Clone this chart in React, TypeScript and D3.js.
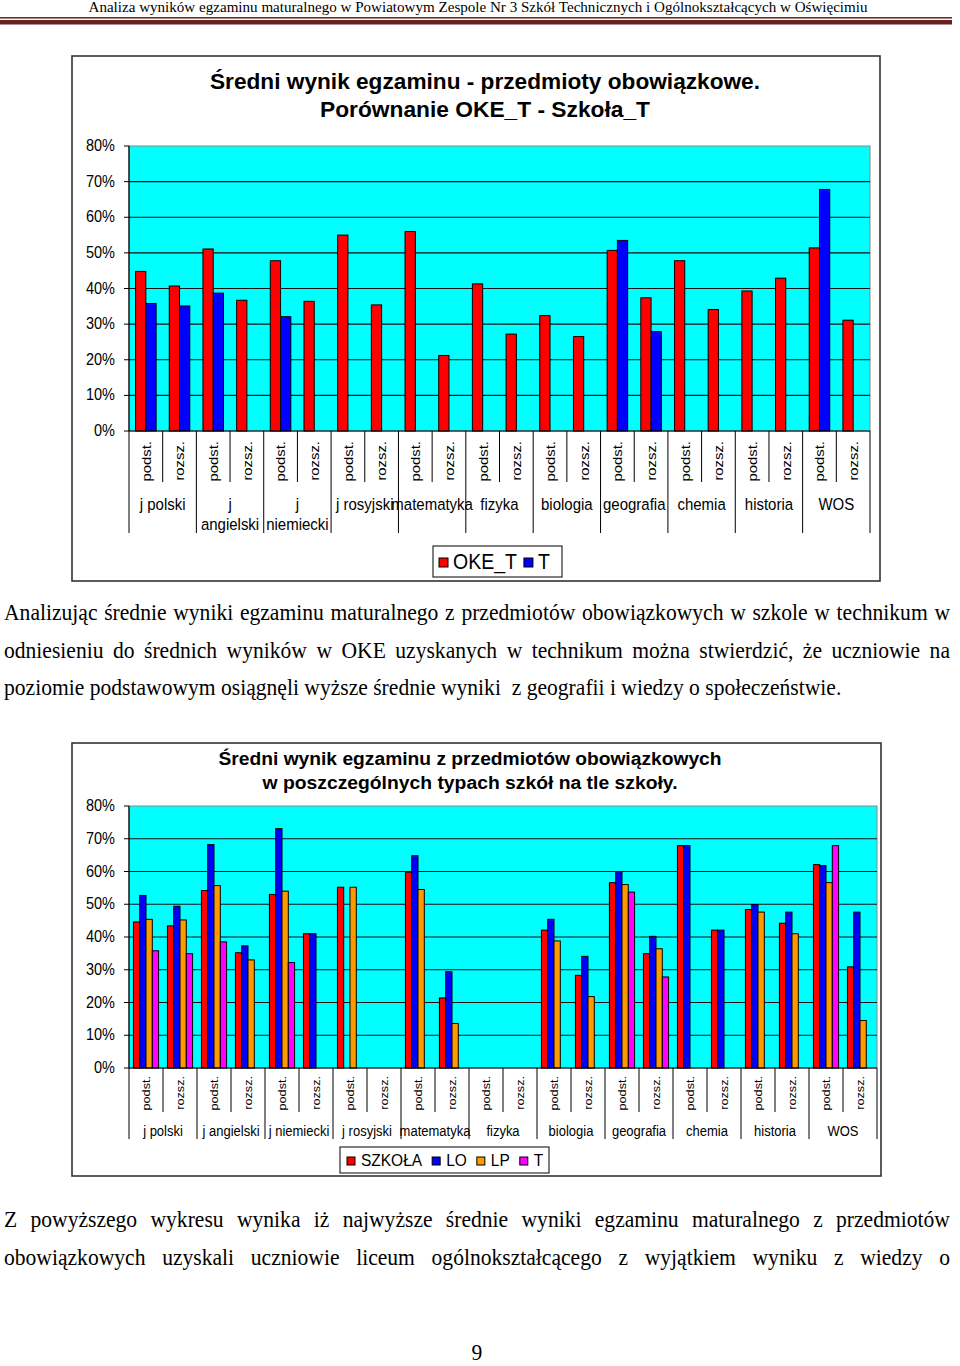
import React from "react";
import * as d3 from "d3";

// ---------------- DATA ----------------
const headerText =
  "Analiza wyników egzaminu maturalnego w Powiatowym Zespole Nr 3 Szkół Technicznych i Ogólnokształcących w Oświęcimiu";

const subjects = [
  "j polski", "j angielski", "j niemiecki", "j rosyjski", "matematyka", "fizyka",
  "biologia", "geografia", "chemia", "historia", "WOS",
];
// chart 1 wraps some subject names onto two lines
const subjectLines1 = [
  ["j polski"], ["j", "angielski"], ["j", "niemiecki"], ["j rosyjski"], ["matematyka"], ["fizyka"],
  ["biologia"], ["geografia"], ["chemia"], ["historia"], ["WOS"],
];
const levels = ["podst.", "rozsz."];
const yTicks = [0, 10, 20, 30, 40, 50, 60, 70, 80];

// Chart 1: OKE_T vs T (percent), 22 categories (subject x level)
const okeT = [44.8, 40.7, 51.1, 36.7, 47.8, 36.4, 55.0, 35.4, 56.0, 21.2, 41.3, 27.2, 32.4, 26.5, 50.7, 37.4, 47.8, 34.1, 39.3, 42.9, 51.4, 31.1];
const tT = [35.8, 35.1, 38.7, null, 32.1, null, null, null, null, null, null, null, null, null, 53.5, 27.9, null, null, null, null, 67.8, null];

// Chart 2: SZKOŁA, LO, LP, T
const szkola = [44.6, 43.4, 54.2, 35.2, 53.0, 41.0, 55.2, null, 59.8, 21.4, null, null, 42.1, 28.3, 56.6, 34.9, 67.9, 42.1, 48.4, 44.2, 62.1, 30.9];
const lo = [52.7, 49.4, 68.2, 37.3, 73.1, 41.0, null, null, 64.8, 29.4, null, null, 45.4, 34.1, 59.9, 40.2, 67.9, 42.1, 49.9, 47.6, 61.8, 47.6];
const lp = [45.4, 45.2, 55.7, 33.0, 54.0, null, 55.2, null, 54.5, 13.6, null, null, 38.8, 21.8, 56.0, 36.4, null, null, 47.6, 41.0, 56.6, 14.5];
const tech = [35.8, 34.9, 38.5, null, 32.2, null, null, null, null, null, null, null, null, null, 53.7, 27.8, null, null, null, null, 67.9, null];

const series1Names = ["OKE_T", "T"];
const series2Names = ["SZKOŁA", "LO", "LP", "T"];

const para1 = [
  "Analizując średnie wyniki egzaminu maturalnego z przedmiotów obowiązkowych w szkole w technikum w",
  "odniesieniu do średnich wyników w OKE uzyskanych w technikum można stwierdzić, że uczniowie na",
  "poziomie podstawowym osiągnęli wyższe średnie wyniki  z geografii i wiedzy o społeczeństwie.",
];
const para2 = [
  "Z powyższego wykresu wynika iż najwyższe średnie wyniki egzaminu maturalnego z przedmiotów",
  "obowiązkowych uzyskali uczniowie liceum ogólnokształcącego z wyjątkiem wyniku z wiedzy o",
];
const pageNumber = "9";

// ---------------- STYLE ----------------
const SANS = "'Liberation Sans', Arial, sans-serif";
const SERIF = "'Liberation Serif', 'Times New Roman', serif";
const RED = "#FF0000";
const BLUE = "#0000FF";
const ORANGE = "#FF9900";
const MAGENTA = "#FF00FF";
const CYAN = "#00FFFF";

let canvasEl: HTMLCanvasElement | null = null;
function measure(text: string, font: string): number {
  if (!canvasEl) canvasEl = document.createElement("canvas");
  const ctx = canvasEl.getContext("2d")!;
  ctx.font = font;
  return ctx.measureText(text).width;
}

function T(props: any) {
  const { x, y, children, size, anchor = "start", weight = "normal", family = SANS, rotate = 0, sy = 1.12, textLength, fill = "#000" } = props;
  return (
    <text
      transform={`translate(${x},${y}) scale(1,${sy})${rotate ? ` rotate(${rotate})` : ""}`}
      fontSize={size}
      textAnchor={anchor}
      fontWeight={weight}
      fontFamily={family}
      fill={fill}
      style={{ whiteSpace: "pre" }}
      textLength={textLength}
      lengthAdjust={textLength ? "spacingAndGlyphs" : undefined}
    >
      {children}
    </text>
  );
}

function JustLine({ text, x0, x1, y, size, justify, sy }: any) {
  const font = `${size}px 'Liberation Serif'`;
  if (!justify) {
    return <T x={x0} y={y} size={size} family={SERIF} sy={sy}>{text}</T>;
  }
  const words = text.split(" ");
  const widths = words.map((w: string) => measure(w, font));
  const total = widths.reduce((a: number, b: number) => a + b, 0);
  const gap = (x1 - x0 - total) / (words.length - 1);
  let cx = x0;
  const out: any[] = [];
  words.forEach((w: string, i: number) => {
    out.push(<T key={i} x={cx} y={y} size={size} family={SERIF} sy={sy}>{w}</T>);
    cx += widths[i] + gap;
  });
  return <g>{out}</g>;
}

function BarChart(props: any) {
  const { frame, plot, series, colors, gapRatio, titleLines, titleCenter, titleSize, titleLens, titleBase, titleStep,
    rotY, rotSize, shortTickY, groupLineY, groupLabelY, groupLabelSize, groupLines, legend, legendNames, legendSize } = props;

  const cats = d3.range(subjects.length * 2);
  const x0 = d3.scaleBand<number>().domain(cats).range([plot.left, plot.right]).padding(0);
  const bw = x0.bandwidth();
  const x1 = d3.scaleBand<number>().domain(d3.range(series.length)).range([bw * gapRatio / 2, bw - bw * gapRatio / 2]).padding(0);
  const y = d3.scaleLinear().domain([0, 80]).range([plot.bottom, plot.top]);

  const elements: any[] = [];
  elements.push(<rect key="frame" x={frame.x} y={frame.y} width={frame.w} height={frame.h} fill="#fff" stroke="#333" strokeWidth={1.6} />);
  titleLines.forEach((t: string, i: number) => {
    elements.push(
      <T key={"title" + i} x={titleCenter} y={titleBase + i * titleStep} size={titleSize} weight="bold" anchor="middle" textLength={titleLens[i]}>{t}</T>
    );
  });
  elements.push(<rect key="bg" x={plot.left} y={plot.top} width={plot.right - plot.left} height={plot.bottom - plot.top} fill={CYAN} stroke="#888" strokeWidth={1} />);
  yTicks.forEach((v) => {
    if (v > 0 && v < 80) {
      elements.push(<line key={"g" + v} x1={plot.left} x2={plot.right} y1={y(v)} y2={y(v)} stroke="#111" strokeWidth={1.2} />);
    }
    elements.push(<line key={"yt" + v} x1={plot.left - 5} x2={plot.left} y1={y(v)} y2={y(v)} stroke="#000" strokeWidth={1} />);
    elements.push(<T key={"yl" + v} x={plot.left - 14} y={y(v) + 5} size={14.5} anchor="end" sy={1.1}>{`${v}%`}</T>);
  });
  cats.forEach((c) => {
    series.forEach((s: (number | null)[], si: number) => {
      const v = s[c];
      if (v == null) return;
      elements.push(
        <rect key={`b${c}_${si}`} x={x0(c)! + x1(si)!} y={y(v)} width={x1.bandwidth()} height={y(0) - y(v)} fill={colors[si]} stroke="#000" strokeWidth={1} />
      );
    });
  });
  elements.push(<line key="yaxis" x1={plot.left} x2={plot.left} y1={plot.top} y2={plot.bottom} stroke="#000" strokeWidth={1.2} />);
  elements.push(<line key="xaxis" x1={plot.left} x2={plot.right} y1={plot.bottom} y2={plot.bottom} stroke="#000" strokeWidth={1.2} />);
  for (let i = 0; i <= cats.length; i++) {
    const xx = i < cats.length ? x0(i)! : plot.right;
    const isGroup = i % 2 === 0;
    elements.push(<line key={"ct" + i} x1={xx} x2={xx} y1={plot.bottom} y2={isGroup ? groupLineY : shortTickY} stroke="#000" strokeWidth={1} />);
  }
  cats.forEach((c) => {
    const cx = x0(c)! + bw / 2 + rotSize * 0.36;
    elements.push(<T key={"rl" + c} x={cx} y={rotY} size={rotSize} rotate={-90} anchor="end" sy={1.1}>{levels[c % 2]}</T>);
  });
  groupLines.forEach((lines: string[], gi: number) => {
    const cx = x0(gi * 2)! + bw;
    lines.forEach((ln, li) => {
      elements.push(<T key={`gl${gi}_${li}`} x={cx} y={groupLabelY + li * 20} size={groupLabelSize} anchor="middle" sy={1.12}>{ln}</T>);
    });
  });
  const font = `${legendSize}px 'Liberation Sans'`;
  const sw = legend.sw;
  const items: any[] = [];
  let lx = legend.x + legend.padL;
  legendNames.forEach((n: string, i: number) => {
    const cy = legend.y + legend.h / 2;
    items.push(<rect key={"ls" + i} x={lx} y={cy - sw / 2 + 1} width={sw} height={sw} fill={colors[i]} stroke="#000" strokeWidth={1} />);
    lx += sw + legend.gapS;
    items.push(<T key={"lt" + i} x={lx} y={cy + legendSize * 0.36 * 1.12} size={legendSize} sy={1.12}>{n}</T>);
    lx += measure(n, font) + legend.gapT;
  });
  elements.push(<rect key="legbox" x={legend.x} y={legend.y} width={legend.w} height={legend.h} fill="#fff" stroke="#000" strokeWidth={1} />);
  elements.push(<g key="legitems">{items}</g>);

  return <g>{elements}</g>;
}

export default function App() {
  const baseW = measure(para1[2], "20px 'Liberation Serif'");
  const pSize = Math.round((20 * 839 / baseW) * 10) / 10;
  const pSy = 1.1;

  return (
    <svg width={960} height={1366} style={{ position: "absolute", left: 0, top: 0, background: "#fff" }}>
      <rect x={0} y={0} width={960} height={1366} fill="#fff" />
      <T x={478} y={12} size={14} family={SERIF} anchor="middle" textLength={779} sy={1.08}>{headerText}</T>
      <rect x={0} y={17} width={952} height={1.6} fill="#7a2a28" />
      <rect x={0} y={20} width={952} height={4.5} fill="#622423" />

      <BarChart
        frame={{ x: 72, y: 56, w: 808, h: 525 }}
        plot={{ left: 129, right: 870, top: 146, bottom: 431 }}
        series={[okeT, tT]}
        colors={[RED, BLUE]}
        gapRatio={0.39}
        titleLines={["Średni wynik egzaminu - przedmioty obowiązkowe.", "Porównanie OKE_T - Szkoła_T"]}
        titleCenter={485}
        titleSize={20}
        titleLens={[550, 330]}
        titleBase={89}
        titleStep={28}
        rotY={441}
        rotSize={13.5}
        shortTickY={482}
        groupLineY={533}
        groupLabelY={510}
        groupLabelSize={15}
        groupLines={subjectLines1}
        legend={{ x: 433, y: 546, w: 129, h: 31, padL: 6, gapS: 5, gapT: 7, sw: 9 }}
        legendNames={series1Names}
        legendSize={19.5}
      />

      {para1.map((ln, i) => (
        <JustLine key={"p1" + i} text={ln} x0={4} x1={950} y={620 + i * 37.5} size={pSize} justify={i < 2} sy={pSy} />
      ))}

      <BarChart
        frame={{ x: 72, y: 743, w: 809, h: 433 }}
        plot={{ left: 129, right: 877, top: 806, bottom: 1068 }}
        series={[szkola, lo, lp, tech]}
        colors={[RED, BLUE, ORANGE, MAGENTA]}
        gapRatio={0.26}
        titleLines={["Średni wynik egzaminu z przedmiotów obowiązkowych", "w poszczególnych typach szkół na tle szkoły."]}
        titleCenter={470}
        titleSize={17}
        titleLens={[503, 415]}
        titleBase={765}
        titleStep={24}
        rotY={1076}
        rotSize={11.5}
        shortTickY={1112}
        groupLineY={1139}
        groupLabelY={1136}
        groupLabelSize={13}
        groupLines={subjects.map((s) => [s])}
        legend={{ x: 340, y: 1147, w: 209, h: 26, padL: 7, gapS: 6, gapT: 10, sw: 8 }}
        legendNames={series2Names}
        legendSize={15.5}
      />

      {para2.map((ln, i) => (
        <JustLine key={"p2" + i} text={ln} x0={4} x1={950} y={1227 + i * 37.5} size={pSize} justify={true} sy={pSy} />
      ))}

      <T x={477} y={1360} size={pSize} family={SERIF} anchor="middle" sy={pSy}>{pageNumber}</T>
    </svg>
  );
}
